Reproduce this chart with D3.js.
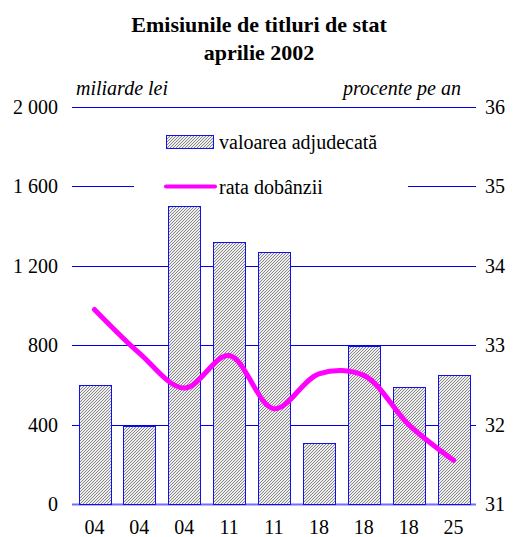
<!DOCTYPE html>
<html>
<head>
<meta charset="utf-8">
<script src="https://cdn.jsdelivr.net/npm/d3@7"></script>
<style>
  body { margin: 0; background: #fff; }
</style>
</head>
<body>
<div id="chart"></div>
<script>
// data
var days = ["04", "04", "04", "11", "11", "18", "18", "18", "25"];
var volume = [600, 395, 1500, 1321, 1271, 306, 798, 588, 648];
var rate = [33.45, 32.9, 32.46, 32.87, 32.2, 32.64, 32.62, 32.0, 31.55];
var leftTicks = [0, 400, 800, 1200, 1600, 2000];
var rightTicks = [31, 32, 33, 34, 35, 36];

var serif = "'Liberation Serif', 'DejaVu Serif', serif";
var width = 515, height = 537;
var margin = { top: 107, right: 39, bottom: 33, left: 72 };
var w = width - margin.left - margin.right;
var h = height - margin.top - margin.bottom;

var svg = d3.select("#chart").append("svg")
  .attr("width", width)
  .attr("height", height)
  .attr("font-family", serif);

// hatch pattern for bars
var defs = svg.append("defs");
var pat = defs.append("pattern")
  .attr("id", "hatch")
  .attr("patternUnits", "userSpaceOnUse")
  .attr("width", 3)
  .attr("height", 3);
pat.append("rect").attr("width", 3).attr("height", 3).attr("fill", "#eeeeee");
pat.append("path")
  .attr("d", "M-1,1 l2,-2 M0,3 l3,-3 M2,4 l2,-2")
  .attr("stroke", "#7a7a7a")
  .attr("stroke-width", 0.9);

var g = svg.append("g")
  .attr("transform", "translate(" + margin.left + "," + margin.top + ")");

var x = d3.scaleBand()
  .domain(d3.range(days.length))
  .range([0, w])
  .paddingInner(0.29)
  .paddingOuter(0.145);

var y0 = d3.scaleLinear().domain([0, 2000]).range([h, 0]);
var y1 = d3.scaleLinear().domain([31, 36]).range([h, 0]);

// gridlines
g.selectAll(".grid")
  .data(leftTicks)
  .enter().append("line")
  .attr("class", "grid")
  .attr("x1", 0)
  .attr("x2", w)
  .attr("y1", function(d) { return Math.round(y0(d)) + 0.5; })
  .attr("y2", function(d) { return Math.round(y0(d)) + 0.5; })
  .attr("stroke", function(d) { return d === 0 ? "#6f6fff" : "#0000ee"; })
  .attr("stroke-width", function(d) { return d === 0 ? 2 : 1; });

// left axis labels
var fmt = function(d) { return d3.format(",")(d).replace(/,/g, " "); };
g.selectAll(".ltick")
  .data(leftTicks)
  .enter().append("text")
  .attr("x", -14)
  .attr("y", function(d) { return y0(d); })
  .attr("dy", "0.35em")
  .attr("text-anchor", "end")
  .attr("font-family", serif)
  .attr("font-size", 20)
  .text(fmt);

// right axis labels
g.selectAll(".rtick")
  .data(rightTicks)
  .enter().append("text")
  .attr("x", w + 9)
  .attr("y", function(d) { return y1(d); })
  .attr("dy", "0.35em")
  .attr("text-anchor", "start")
  .attr("font-family", serif)
  .attr("font-size", 20)
  .text(function(d) { return d; });

// x labels
g.selectAll(".xlab")
  .data(days)
  .enter().append("text")
  .attr("x", function(d, i) { return x(i) + x.bandwidth() / 2; })
  .attr("y", h + 30)
  .attr("text-anchor", "middle")
  .attr("font-family", serif)
  .attr("font-size", 20)
  .text(function(d) { return d; });

// bars
g.selectAll(".bar")
  .data(volume)
  .enter().append("rect")
  .attr("class", "bar")
  .attr("x", function(d, i) { return Math.round(x(i)) + 0.5; })
  .attr("width", Math.round(x.bandwidth()))
  .attr("y", function(d) { return Math.round(y0(d)) + 0.5; })
  .attr("height", function(d) { return h - Math.round(y0(d)); })
  .attr("fill", "url(#hatch)")
  .attr("stroke", "#1010ee")
  .attr("stroke-width", 1);

// rate line
var line = d3.line()
  .x(function(d, i) { return x(i) + x.bandwidth() / 2; })
  .y(function(d) { return y1(d); })
  .curve(d3.curveCatmullRom.alpha(0.5));

g.append("path")
  .datum(rate)
  .attr("d", line)
  .attr("fill", "none")
  .attr("stroke", "#ff00ff")
  .attr("stroke-width", 5)
  .attr("stroke-linecap", "round")
  .attr("stroke-linejoin", "round");

// legend
var lg = svg.append("g");
lg.append("rect")
  .attr("x", 134).attr("y", 124)
  .attr("width", 274).attr("height", 78)
  .attr("fill", "#fff");
lg.append("rect")
  .attr("x", 166.5).attr("y", 135.5)
  .attr("width", 47).attr("height", 13)
  .attr("fill", "url(#hatch)")
  .attr("stroke", "#1010ee");
lg.append("text")
  .attr("x", 219).attr("y", 149)
  .attr("font-family", serif)
  .attr("font-size", 20)
  .text("valoarea adjudecată");
lg.append("line")
  .attr("x1", 166).attr("x2", 215)
  .attr("y1", 186.5).attr("y2", 186.5)
  .attr("stroke", "#ff00ff")
  .attr("stroke-width", 4)
  .attr("stroke-linecap", "round");
lg.append("text")
  .attr("x", 219).attr("y", 194)
  .attr("font-family", serif)
  .attr("font-size", 20)
  .text("rata dobânzii");

// titles
svg.append("text")
  .attr("x", 259).attr("y", 32)
  .attr("text-anchor", "middle")
  .attr("font-family", serif)
  .attr("font-size", 22)
  .attr("font-weight", "bold")
  .text("Emisiunile de titluri de stat");
svg.append("text")
  .attr("x", 259).attr("y", 60)
  .attr("text-anchor", "middle")
  .attr("font-family", serif)
  .attr("font-size", 22)
  .attr("font-weight", "bold")
  .text("aprilie 2002");

svg.append("text")
  .attr("x", 76).attr("y", 95)
  .attr("font-family", serif)
  .attr("font-size", 20)
  .attr("font-style", "italic")
  .text("miliarde lei");
svg.append("text")
  .attr("x", 461).attr("y", 95)
  .attr("text-anchor", "end")
  .attr("font-family", serif)
  .attr("font-size", 20)
  .attr("font-style", "italic")
  .text("procente pe an");
</script>
</body>
</html>
